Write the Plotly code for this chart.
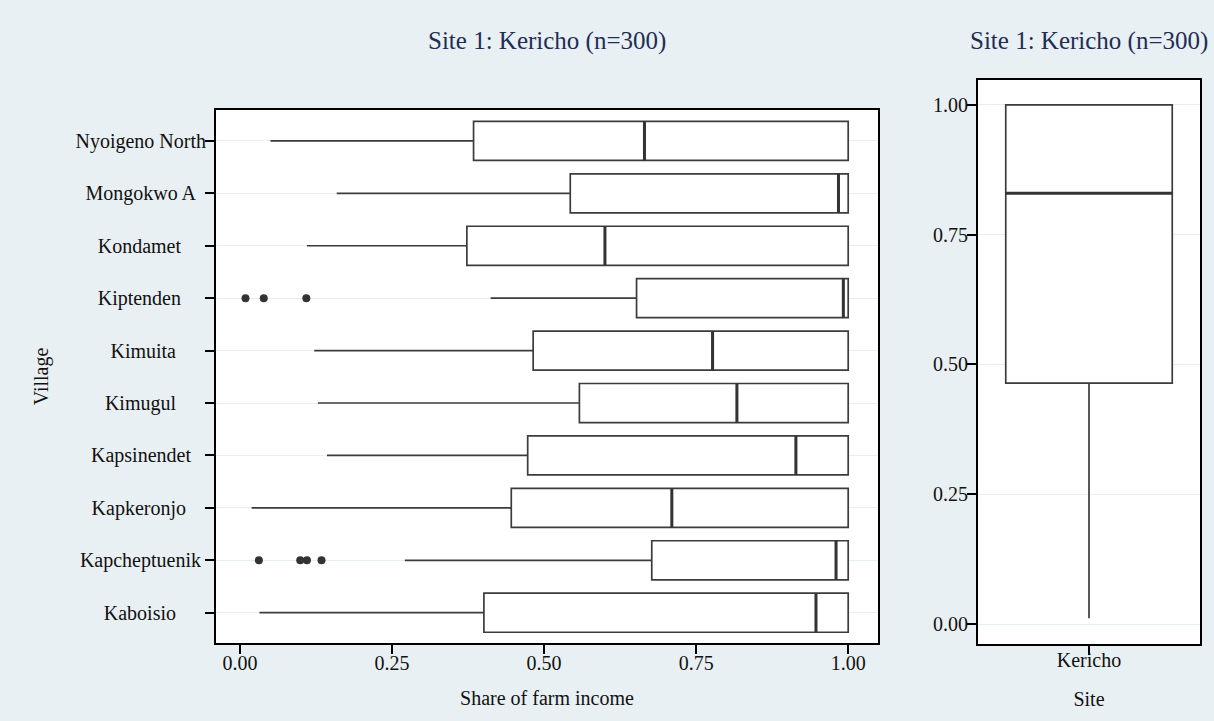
import plotly.graph_objects as go

# ---------------- data ----------------
villages = ["Kaboisio", "Kapcheptuenik", "Kapkeronjo", "Kapsinendet", "Kimugul",
            "Kimuita", "Kiptenden", "Kondamet", "Mongokwo A", "Nyoigeno North"]
v_lower = [0.032, 0.271, 0.019, 0.143, 0.128, 0.122, 0.412, 0.110, 0.159, 0.050]
v_q1 = [0.401, 0.677, 0.446, 0.473, 0.558, 0.482, 0.652, 0.373, 0.543, 0.384]
v_median = [0.947, 0.980, 0.710, 0.914, 0.817, 0.777, 0.992, 0.600, 0.984, 0.665]
v_q3 = [1.0, 1.0, 1.0, 1.0, 1.0, 1.0, 1.0, 1.0, 1.0, 1.0]
v_upper = [1.0, 1.0, 1.0, 1.0, 1.0, 1.0, 1.0, 1.0, 1.0, 1.0]

out_village = ["Kiptenden", "Kiptenden", "Kiptenden",
               "Kapcheptuenik", "Kapcheptuenik", "Kapcheptuenik", "Kapcheptuenik"]
out_value = [0.009, 0.039, 0.109, 0.031, 0.099, 0.110, 0.134]

site = ["Kericho"]
s_lower = [0.011]
s_q1 = [0.464]
s_median = [0.830]
s_q3 = [1.0]
s_upper = [1.0]

x_ticks = [0.0, 0.25, 0.5, 0.75, 1.0]
x_ticktext = ["0.00", "0.25", "0.50", "0.75", "1.00"]

title_text = "Site 1: Kericho (n=300)"

# ---------------- style ----------------
FONT = "Liberation Serif"
BG = "#e9f0f3"
GRID = "#e6eef1"
LINE = "#3c3c3c"
MED = "#333333"
TITLE_C = "#1f2d55"
# trailing non-breaking spaces to emulate centred category labels
label_pad = {"Nyoigeno North": 0, "Mongokwo A": 2, "Kondamet": 5, "Kiptenden": 5,
             "Kimuita": 6, "Kimugul": 6, "Kapsinendet": 3, "Kapkeronjo": 4,
             "Kapcheptuenik": 1, "Kaboisio": 6}
y_ticktext = [v + "\u00a0" * label_pad[v] for v in villages]

fig = go.Figure()

# left: village boxes
fig.add_trace(go.Box(
    y=villages, q1=v_q1, median=v_median, q3=v_q3,
    lowerfence=v_lower, upperfence=v_upper,
    orientation="h", width=0.745, whiskerwidth=0,
    fillcolor="white", line=dict(color=LINE, width=1.7),
    boxpoints=False, hoverinfo="skip", showlegend=False,
    xaxis="x", yaxis="y"))
# thicker median marks
fig.add_trace(go.Box(
    y=villages, q1=v_median, median=v_median, q3=v_median,
    lowerfence=v_median, upperfence=v_median,
    orientation="h", width=0.745, whiskerwidth=0,
    fillcolor="rgba(0,0,0,0)", line=dict(color=MED, width=3),
    boxpoints=False, hoverinfo="skip", showlegend=False,
    xaxis="x", yaxis="y"))
fig.add_trace(go.Scatter(
    x=out_value, y=out_village, mode="markers",
    marker=dict(color="#333333", size=8),
    hoverinfo="skip", showlegend=False, xaxis="x", yaxis="y"))

# right: site box
fig.add_trace(go.Box(
    x=site, q1=s_q1, median=s_median, q3=s_q3,
    lowerfence=s_lower, upperfence=s_upper,
    width=0.75, whiskerwidth=0,
    fillcolor="white", line=dict(color=LINE, width=1.7),
    boxpoints=False, hoverinfo="skip", showlegend=False,
    xaxis="x2", yaxis="y2"))
fig.add_trace(go.Box(
    x=site, q1=s_median, median=s_median, q3=s_median,
    lowerfence=s_median, upperfence=s_median,
    width=0.75, whiskerwidth=0,
    fillcolor="rgba(0,0,0,0)", line=dict(color=MED, width=3),
    boxpoints=False, hoverinfo="skip", showlegend=False,
    xaxis="x2", yaxis="y2"))

axis_common = dict(showline=True, linecolor="black", linewidth=2, mirror=True,
                   ticks="outside", ticklen=9, tickwidth=2, tickcolor="black",
                   tickfont=dict(family=FONT, size=20, color="#111111"),
                   zeroline=False)
title_font = dict(family=FONT, size=20, color="#111111")

fig.update_layout(
    width=1214, height=721,
    margin=dict(l=0, r=0, t=0, b=0),
    paper_bgcolor=BG, plot_bgcolor="white",
    font=dict(family=FONT, size=20, color="#111111"),
    boxmode="overlay",
    xaxis=dict(domain=[216 / 1214, 878 / 1214], range=[-0.0395, 1.049],
               tickvals=x_ticks, ticktext=x_ticktext, showgrid=False,
               ticklabelstandoff=-8,
               title=dict(text="Share of farm income", standoff=18, font=title_font),
               anchor="y", **axis_common),
    yaxis=dict(domain=[1 - 643 / 721, 1 - 110 / 721], range=[-0.578, 9.59],
               type="category", categoryorder="array", categoryarray=villages,
               tickvals=villages, ticktext=y_ticktext,
               showgrid=True, gridcolor=GRID, gridwidth=1,
               ticklabelstandoff=-5,
               title=dict(text="Village", standoff=21, font=title_font),
               anchor="x", **axis_common),
    xaxis2=dict(domain=[978 / 1214, 1200 / 1214], range=[-0.5, 0.5],
                type="category", showgrid=False,
                ticklabelstandoff=-12,
                title=dict(text="Site", standoff=22, font=title_font),
                anchor="y2", **axis_common),
    yaxis2=dict(domain=[1 - 644 / 721, 1 - 80 / 721], range=[-0.0385, 1.048],
                tickvals=x_ticks, ticktext=x_ticktext,
                showgrid=True, gridcolor=GRID, gridwidth=1,
                ticklabelstandoff=-5,
                anchor="x2", **axis_common),
    annotations=[
        dict(text=title_text, xref="paper", yref="paper",
             x=547 / 1214, y=1 - 41 / 721, xanchor="center", yanchor="middle",
             showarrow=False, font=dict(family=FONT, size=25, color=TITLE_C)),
        dict(text=title_text, xref="paper", yref="paper",
             x=1089 / 1214, y=1 - 41 / 721, xanchor="center", yanchor="middle",
             showarrow=False, font=dict(family=FONT, size=25, color=TITLE_C)),
    ],
)

fig.write_html("out.html")
